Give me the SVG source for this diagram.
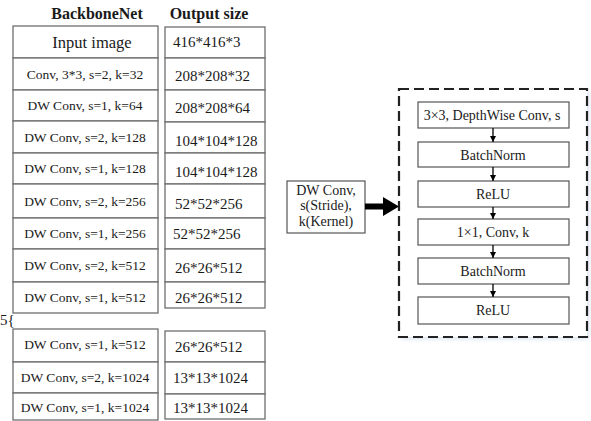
<svg xmlns="http://www.w3.org/2000/svg" width="591" height="421" viewBox="0 0 591 421">
  <style>
    .cell { fill: #ffffff; stroke: #6e6e6e; stroke-width: 1.3; }
    .blk { fill: #ffffff; stroke: #555555; stroke-width: 1.2; }
    text { fill: #1a1a1a; }
    .row { font-size: 13.5px; text-anchor: middle; }
    .out { font-size: 15px; }
    .hd { font-size: 16px; font-weight: bold; text-anchor: middle; }
    .in { font-size: 14px; text-anchor: middle; }
    .link { stroke: #000; stroke-width: 1.3; fill: none; marker-end: url(#tip); }
  </style>
  <defs>
    <marker id="tip" viewBox="0 0 10 10" refX="10" refY="5" markerWidth="6.5" markerHeight="6.5" markerUnits="userSpaceOnUse" orient="auto">
      <path d="M0,0 L10,5 L0,10 Z" fill="#000"/>
    </marker>
    <filter id="glow" x="-10%" y="-10%" width="120%" height="120%">
      <feGaussianBlur stdDeviation="2"/>
    </filter>
  </defs>

  <rect width="591" height="421" fill="#ffffff"/>

  <g font-family="'Liberation Serif', 'Times New Roman', 'DejaVu Serif', serif">
  <!-- column headers -->
  <text class="hd" x="97" y="19">BackboneNet</text>
  <text class="hd" x="209" y="19">Output size</text>

  <!-- layer table -->
  <g id="row-input">
    <rect class="cell" x="13" y="26" width="145" height="32"/>
    <text x="92" y="48" font-size="16.5" text-anchor="middle">Input image</text>
    <rect class="cell" x="165" y="27" width="100" height="31"/>
    <text class="out" x="173" y="47">416*416*3</text>
  </g>
  <g id="row-conv">
    <rect class="cell" x="13" y="58" width="145" height="32"/>
    <text class="row" x="85" y="79">Conv, 3*3, s=2, k=32</text>
    <rect class="cell" x="165" y="58" width="100" height="32"/>
    <text class="out" x="175" y="81">208*208*32</text>
  </g>
  <g id="row-dw64">
    <rect class="cell" x="13" y="90" width="145" height="31"/>
    <text class="row" x="85" y="110">DW Conv, s=1, k=64</text>
    <rect class="cell" x="165" y="90" width="100" height="32"/>
    <text class="out" x="175" y="113">208*208*64</text>
  </g>
  <g id="row-dw128a">
    <rect class="cell" x="13" y="121" width="145" height="32"/>
    <text class="row" x="85" y="142">DW Conv, s=2, k=128</text>
    <rect class="cell" x="165" y="122" width="100" height="31"/>
    <text class="out" x="175" y="146">104*104*128</text>
  </g>
  <g id="row-dw128b">
    <rect class="cell" x="13" y="153" width="145" height="31"/>
    <text class="row" x="85" y="173">DW Conv, s=1, k=128</text>
    <rect class="cell" x="165" y="153" width="100" height="31"/>
    <text class="out" x="175" y="177">104*104*128</text>
  </g>
  <g id="row-dw256a">
    <rect class="cell" x="13" y="184" width="145" height="34"/>
    <text class="row" x="85" y="206">DW Conv, s=2, k=256</text>
    <rect class="cell" x="165" y="184" width="100" height="34"/>
    <text class="out" x="175" y="209">52*52*256</text>
  </g>
  <g id="row-dw256b">
    <rect class="cell" x="13" y="218" width="145" height="31"/>
    <text class="row" x="85" y="238">DW Conv, s=1, k=256</text>
    <rect class="cell" x="165" y="218" width="100" height="31"/>
    <text class="out" x="173" y="239">52*52*256</text>
  </g>
  <g id="row-dw512a">
    <rect class="cell" x="13" y="249" width="145" height="33"/>
    <text class="row" x="85" y="270">DW Conv, s=2, k=512</text>
    <rect class="cell" x="165" y="249" width="100" height="33"/>
    <text class="out" x="175" y="273">26*26*512</text>
  </g>
  <g id="row-dw512b">
    <rect class="cell" x="13" y="282" width="145" height="31"/>
    <text class="row" x="85" y="302">DW Conv, s=1, k=512</text>
    <rect class="cell" x="165" y="282" width="100" height="26"/>
    <text class="out" x="175" y="303">26*26*512</text>
  </g>

  <!-- repeat marker -->
  <text x="0" y="325" font-size="15">5{</text>

  <g id="row-dw512c">
    <rect class="cell" x="13" y="329" width="145" height="33"/>
    <text class="row" x="85" y="349">DW Conv, s=1, k=512</text>
    <rect class="cell" x="165" y="331" width="100" height="31"/>
    <text class="out" x="175" y="352">26*26*512</text>
  </g>
  <g id="row-dw1024a">
    <rect class="cell" x="13" y="362" width="145" height="31"/>
    <text class="row" x="85" y="382">DW Conv, s=2, k=1024</text>
    <rect class="cell" x="165" y="362" width="100" height="32"/>
    <text class="out" x="173" y="383">13*13*1024</text>
  </g>
  <g id="row-dw1024b">
    <rect class="cell" x="13" y="393" width="145" height="27"/>
    <text class="row" x="85" y="412">DW Conv, s=1, k=1024</text>
    <rect class="cell" x="165" y="394" width="100" height="25"/>
    <text class="out" x="173" y="413">13*13*1024</text>
  </g>

  <!-- DW Conv summary box -->
  <g id="dwconv">
    <rect class="blk" x="287" y="181" width="78" height="52"/>
    <text class="in" x="326" y="195">DW Conv,</text>
    <text class="in" x="326" y="210">s(Stride),</text>
    <text class="in" x="326" y="226">k(Kernel)</text>
  </g>

  <!-- expanded block -->
  <g id="block">
    <rect x="401" y="91" width="188" height="248" fill="#c8d8ea" opacity="0.7" filter="url(#glow)"/>
    <rect x="399" y="89" width="188" height="248" fill="#ffffff" stroke="#222" stroke-width="2.2" stroke-dasharray="10,5"/>
  </g>
  <g id="dw3x3">
    <rect class="blk" x="418" y="102" width="151" height="26"/>
    <text class="in" x="492" y="120">3×3, DepthWise Conv, s</text>
  </g>
  <g id="bn1">
    <rect class="blk" x="418" y="142" width="151" height="25"/>
    <text class="in" x="493" y="160">BatchNorm</text>
  </g>
  <g id="relu1">
    <rect class="blk" x="418" y="181" width="151" height="26"/>
    <text class="in" x="493" y="199">ReLU</text>
  </g>
  <g id="pw1x1">
    <rect class="blk" x="418" y="219" width="151" height="26"/>
    <text class="in" x="493" y="237">1×1,  Conv, k</text>
  </g>
  <g id="bn2">
    <rect class="blk" x="418" y="258" width="151" height="26"/>
    <text class="in" x="493" y="276">BatchNorm</text>
  </g>
  <g id="relu2">
    <rect class="blk" x="418" y="297" width="151" height="27"/>
    <text class="in" x="493" y="315">ReLU</text>
  </g>
  </g>

  <!-- connectors -->
  <g id="connectors">
    <path d="M365,203.5 H383 V197 L399,206.5 L383,216 V209.5 H365 Z" fill="#000"/>
    <line class="link" x1="493" y1="128" x2="493" y2="142"/>
    <line class="link" x1="493" y1="167" x2="493" y2="181"/>
    <line class="link" x1="493" y1="207" x2="493" y2="219"/>
    <line class="link" x1="493" y1="245" x2="493" y2="258"/>
    <line class="link" x1="493" y1="284" x2="493" y2="297"/>
  </g>
</svg>
